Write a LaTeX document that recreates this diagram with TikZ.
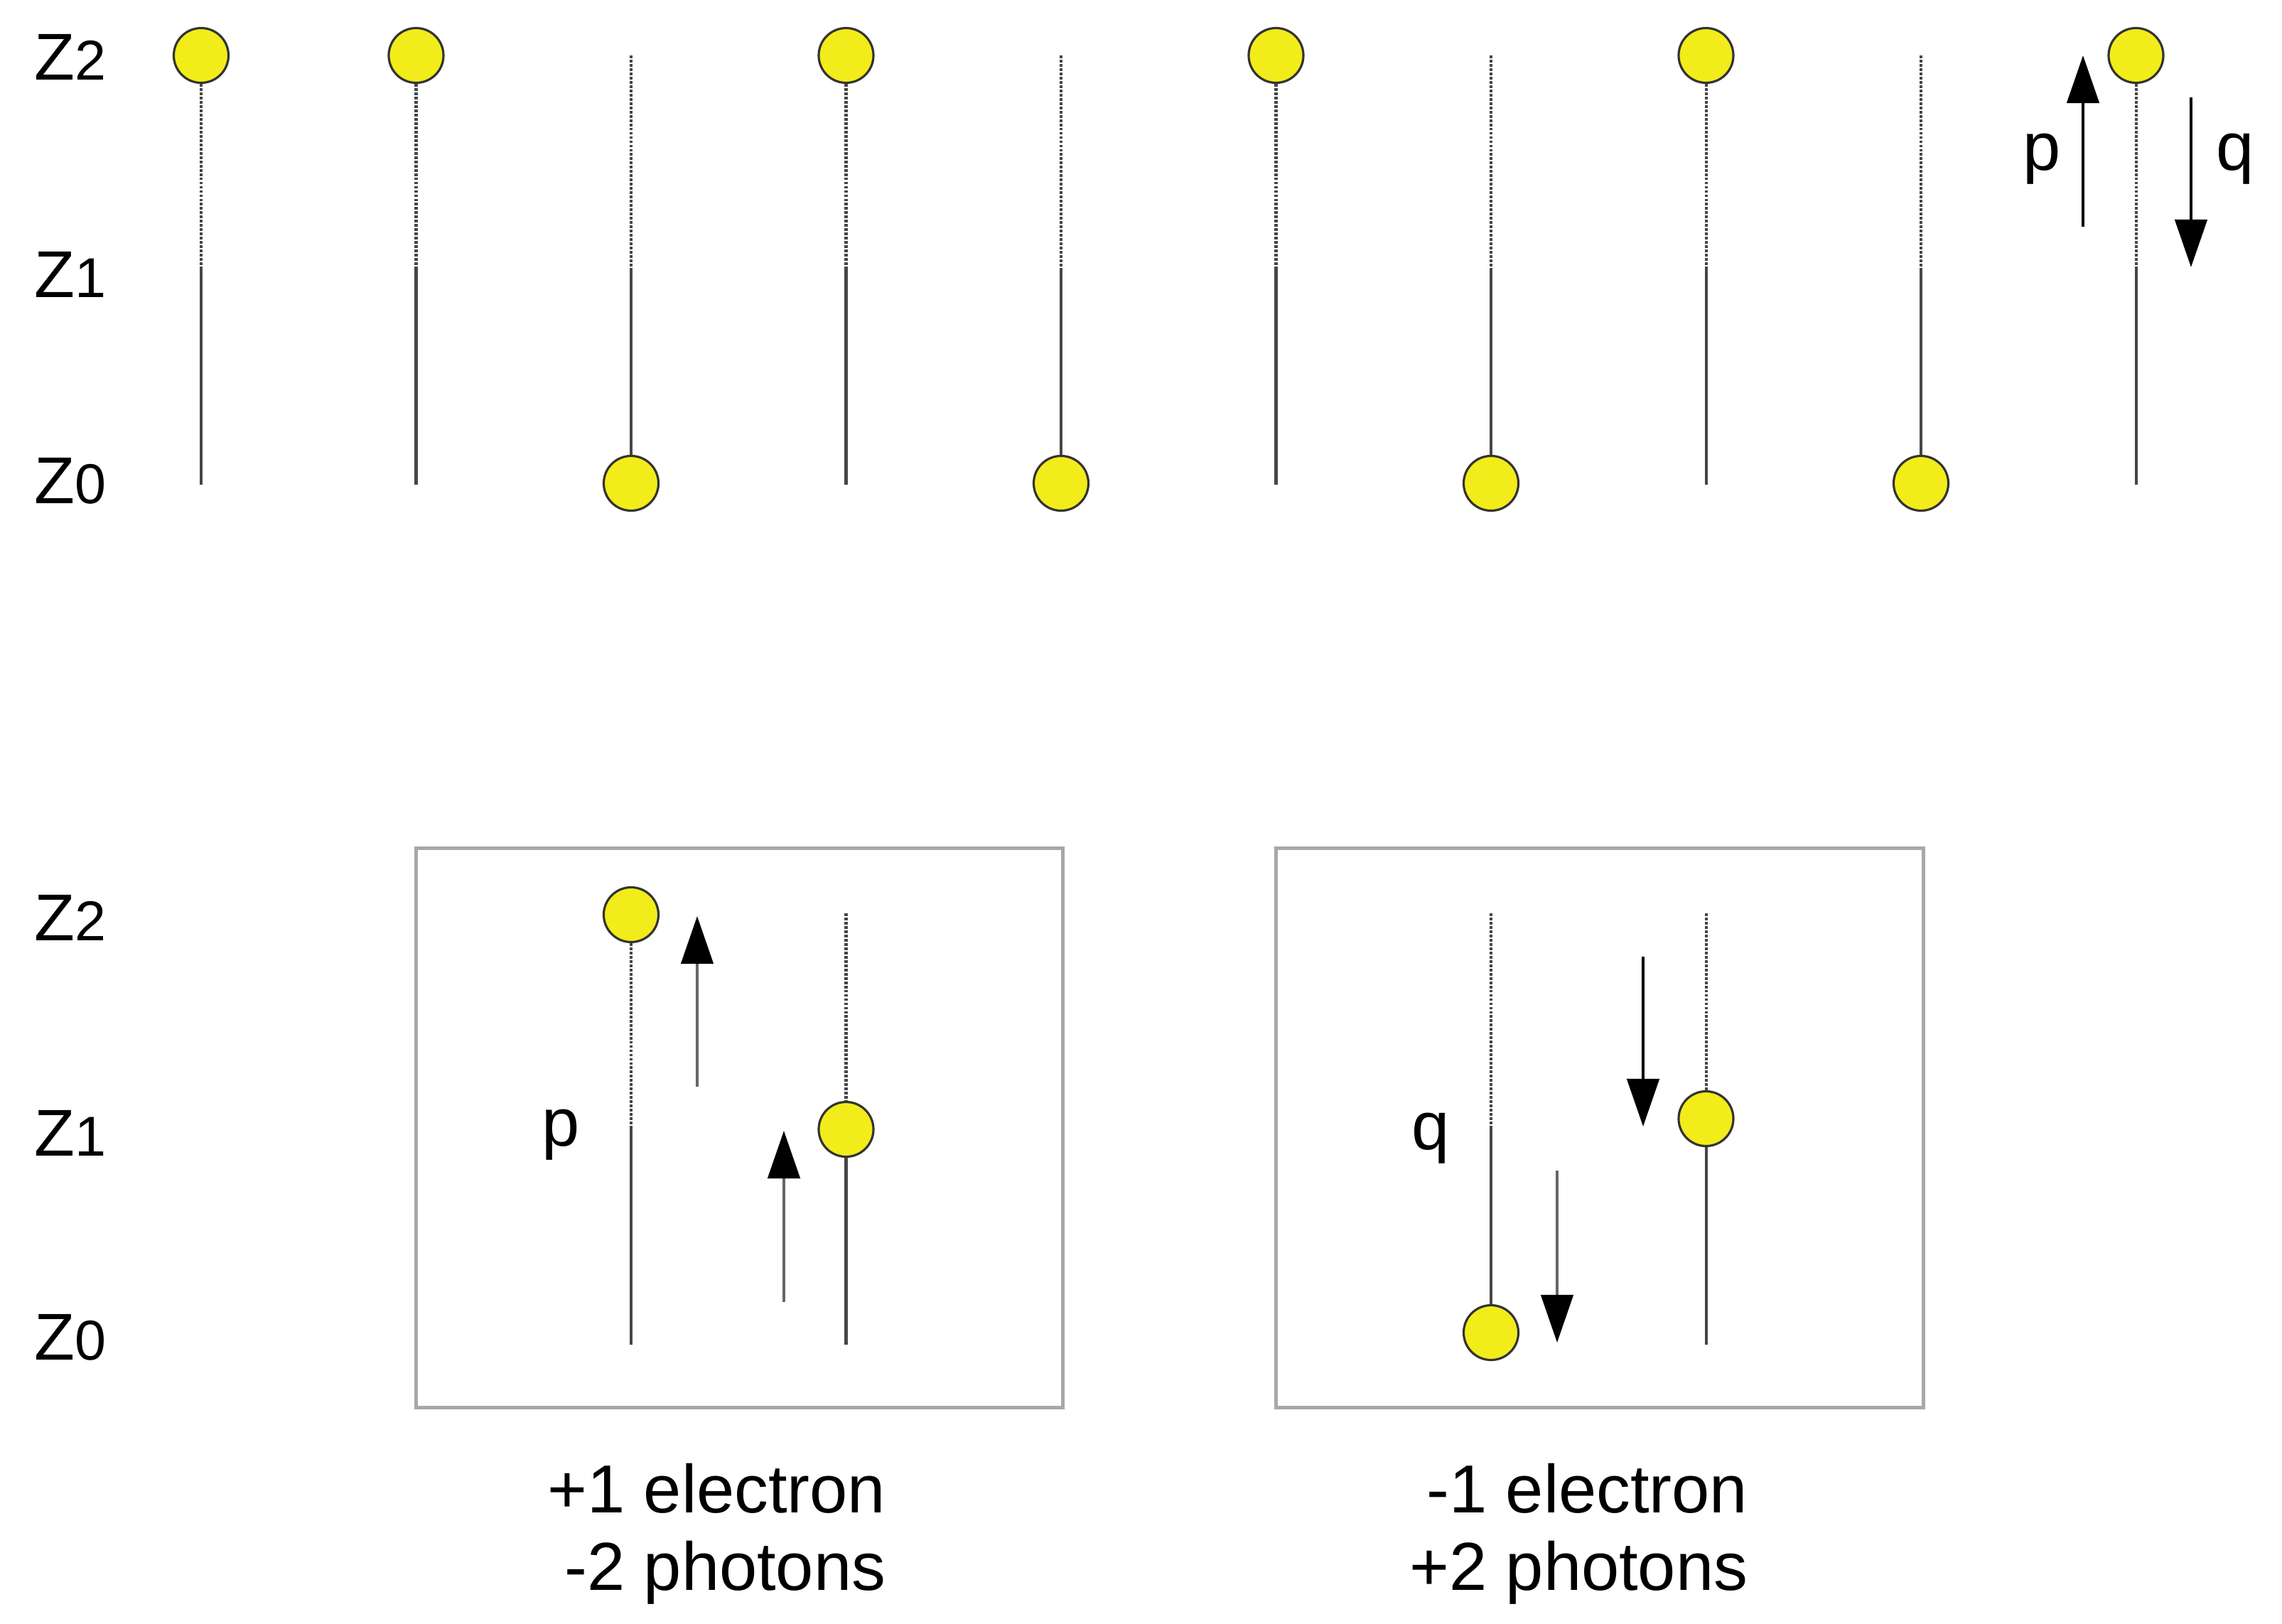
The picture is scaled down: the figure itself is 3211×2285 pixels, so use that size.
\documentclass[tikz,border=0pt]{standalone}
\usepackage{fontspec}
\setmainfont{Liberation Sans}
\usetikzlibrary{arrows.meta}
\definecolor{ballyellow}{RGB}{242,236,26}
\definecolor{wire}{RGB}{70,70,70}
\definecolor{framegray}{RGB}{168,168,168}
\newcommand\zlab[1]{{\fontsize{26.5}{30}\selectfont Z}{\fontsize{22.5}{26}\selectfont #1}}
\begin{document}
\begin{tikzpicture}[x=0.01cm,y=-0.01cm,
  ball/.style={circle,draw=black!80,line width=0.9pt,fill=ballyellow,minimum size=0.77cm,inner sep=0pt},
  solidw/.style={draw=wire,line width=1.15pt},
  dashw/.style={draw=wire,line width=1.15pt,dash pattern=on 1.1pt off 0.6pt},
  arr/.style={-{Triangle[length=0.67cm,width=0.45cm]},line width=1.3pt,draw=black},
  arrg/.style={-{Triangle[length=0.67cm,width=0.45cm,black]},line width=1.3pt,draw=black!60},
  lbl/.style={inner sep=0pt,font=\fontsize{27.2}{31}\selectfont},
  zl/.style={inner sep=0pt,anchor=base west},
  framebox/.style={draw=framegray,line width=1.3pt,inner sep=0pt}
]
\useasboundingbox (0,0) rectangle (3211,2285);
% level labels
\node[zl] (z2t) at (48,113) {\zlab{2}};
\node[zl] (z1t) at (48,418) {\zlab{1}};
\node[zl] (z0t) at (48,708) {\zlab{0}};
\node[zl] (z2b) at (48,1323) {\zlab{2}};
\node[zl] (z1b) at (48,1626) {\zlab{1}};
\node[zl] (z0b) at (48,1913) {\zlab{0}};
% top row, electron in upper level
\foreach \i in {0,1,3,5,7,9} {
  \node[ball] (e\i) at ({283+302.5*\i},78) {};
  \coordinate (m\i) at ({283+302.5*\i},378);
  \coordinate (b\i) at ({283+302.5*\i},682);
  \draw[dashw] (e\i.south) -- (m\i);
  \draw[solidw] (m\i) -- (b\i);
}
% top row, electron in ground level
\foreach \i in {2,4,6,8} {
  \coordinate (a\i) at ({283+302.5*\i},78);
  \coordinate (m\i) at ({283+302.5*\i},378);
  \node[ball] (e\i) at ({283+302.5*\i},680) {};
  \draw[dashw] (a\i) -- (m\i);
  \draw[solidw] (m\i) -- (e\i.north);
}
% top arrows
\coordinate (pu0) at (2931,319); \coordinate (pu1) at (2931,78);
\draw[arr] (pu0) -- (pu1);
\coordinate (qd0) at (3083,137); \coordinate (qd1) at (3083,376);
\draw[arr] (qd0) -- (qd1);
\node[lbl,anchor=base] (plab) at (2873,239) {p};
\node[lbl,anchor=base] (qlab) at (3145,239) {q};
% box 1
\node[framebox,minimum width=9.09cm,minimum height=7.86cm] (box1) at (1040.5,1587) {};
\node[ball] (e10) at (888,1287) {};
\coordinate (m10) at (888,1587); \coordinate (b10) at (888,1892);
\draw[dashw] (e10.south) -- (m10);
\draw[solidw] (m10) -- (b10);
\coordinate (a11) at (1190.5,1285);
\node[ball] (e11) at (1190.5,1589) {};
\coordinate (b11) at (1190.5,1892);
\draw[dashw] (a11) -- (e11.north);
\draw[solidw] (e11.south) -- (b11);
\coordinate (u1a) at (981,1529); \coordinate (u1b) at (981,1289);
\draw[arrg] (u1a) -- (u1b);
\coordinate (u2a) at (1103,1832); \coordinate (u2b) at (1103,1591);
\draw[arrg] (u2a) -- (u2b);
\node[lbl,anchor=base] (pbox) at (789,1612) {p};
% box 2
\node[framebox,minimum width=9.1cm,minimum height=7.86cm] (box2) at (2251,1587) {};
\coordinate (a12) at (2098,1285); \coordinate (m12) at (2098,1587);
\node[ball] (e12) at (2098,1875) {};
\draw[dashw] (a12) -- (m12);
\draw[solidw] (m12) -- (e12.north);
\coordinate (a13) at (2400.5,1285);
\node[ball] (e13) at (2400.5,1574) {};
\coordinate (b13) at (2400.5,1892);
\draw[dashw] (a13) -- (e13.north);
\draw[solidw] (e13.south) -- (b13);
\coordinate (d1a) at (2312,1346); \coordinate (d1b) at (2312,1585);
\draw[arr] (d1a) -- (d1b);
\coordinate (d2a) at (2191,1647); \coordinate (d2b) at (2191,1889);
\draw[arrg] (d2a) -- (d2b);
\node[lbl,anchor=base] (qbox) at (2013,1617) {q};
% captions
\node[lbl,anchor=base east] (c1a) at (1247,2128) {+1 electron};
\node[lbl,anchor=base east] (c1b) at (1247,2237) {-2 photons};
\node[lbl,anchor=base east] (c2a) at (2460,2128) {-1 electron};
\node[lbl,anchor=base east] (c2b) at (2460,2237) {+2 photons};
\end{tikzpicture}
\end{document}
